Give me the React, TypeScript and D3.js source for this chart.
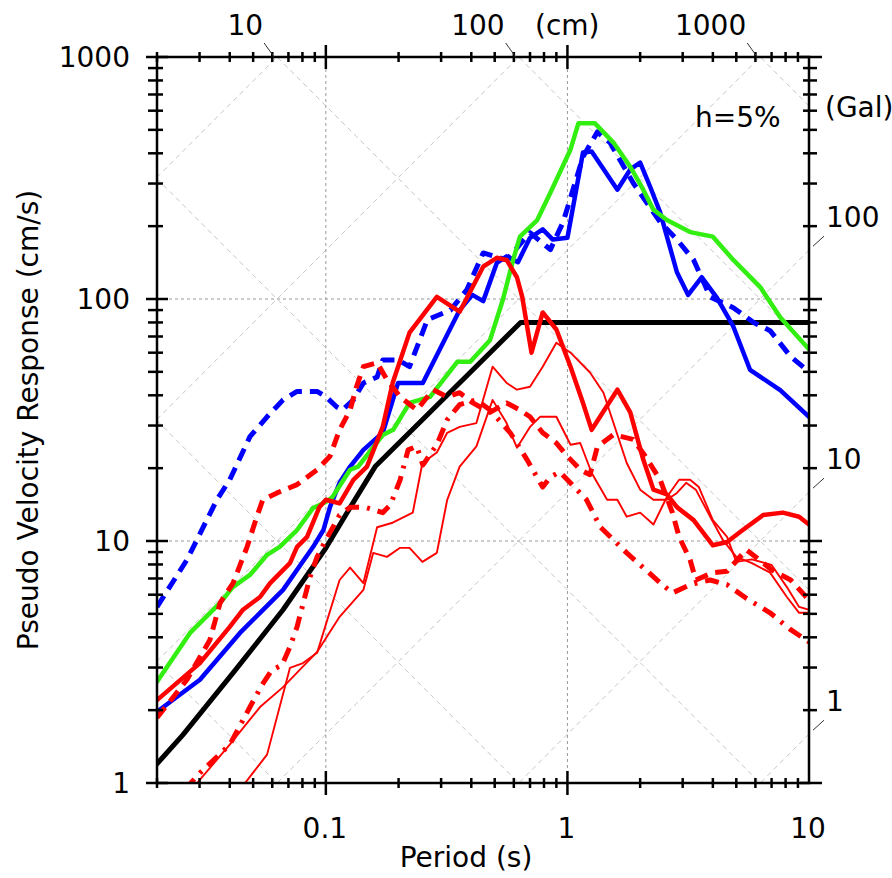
import React from 'react';
import * as d3 from 'd3';

const W = 892;
const H = 878;
const X0 = 157, X1 = 809, Y0 = 57, Y1 = 783;

const periodLabels = [0.1, 1, 10];
const velocityLabels = [1, 10, 100, 1000];
const gridPeriods = [0.1, 1];
const gridVelocities = [10, 100];
const dispLines = [0.01, 0.1, 1, 10, 100, 1000];
const accLines = [1, 10, 100, 1000, 10000, 100000];
const dispLabels = [10, 100, 1000];
const accLabels = [1, 10, 100];

type P = [number, number];

const designSpectrum: P[] = [[0.02,1.2],[0.0256,1.58],[0.0413,2.85],[0.0665,5.2],[0.1,9.35],[0.128,14.1],[0.16,20.3],[0.64,80],[10,80]];

const greenSolid: P[] = [[0.02,2.62],[0.0274,4.17],[0.0365,5.55],[0.0413,6.46],[0.0485,7.24],[0.0571,8.77],[0.0644,9.46],[0.076,11.1],[0.0886,13.7],[0.1,14.5],[0.106,15.1],[0.126,19.7],[0.136,20.3],[0.172,27.4],[0.19,28.8],[0.222,37.2],[0.27,39.4],[0.35,55],[0.396,55],[0.478,67.6],[0.54,99],[0.596,145],[0.636,181],[0.75,212],[0.849,274],[1.03,415],[1.11,532],[1.3,532],[1.55,443],[1.82,352],[2.06,283],[2.27,234],[2.58,212],[3.22,189],[4.0,181],[4.86,145],[6.28,112],[7.6,84],[10,62]];

const blueSolid: P[] = [[0.02,1.97],[0.0301,2.67],[0.0441,4.17],[0.0534,5.05],[0.0665,6.28],[0.0886,9.46],[0.0977,11.1],[0.104,13.8],[0.114,17.4],[0.126,20.3],[0.143,23.8],[0.172,28],[0.199,45],[0.252,45],[0.358,90],[0.404,104],[0.448,98],[0.51,141],[0.56,150],[0.624,142],[0.70,179],[0.79,194],[0.87,176],[1.0,179],[1.16,403],[1.26,407],[1.61,283],[1.82,343],[2.0,366],[2.2,291],[2.42,228],[2.84,129],[3.16,104],[3.6,123],[4.16,101],[4.86,77],[5.7,51],[7.6,42],[10,32.6]];

const blueDashed: P[] = [[0.02,5.34],[0.0266,8.36],[0.0354,14.8],[0.04,17.9],[0.0485,27],[0.0571,32.6],[0.0665,38.3],[0.076,41.5],[0.092,41.5],[0.1,39.5],[0.111,35.8],[0.117,34.8],[0.13,38.3],[0.143,45],[0.163,47.6],[0.172,56],[0.199,56],[0.222,52.5],[0.263,82],[0.328,90],[0.383,109],[0.448,155],[0.56,145],[0.70,188],[0.85,160],[0.96,208],[1.16,387],[1.33,490],[1.5,443],[1.87,302],[2.42,208],[2.84,176],[3.33,145],[3.9,102],[4.86,92],[5.9,80],[6.9,74],[8.4,57.8],[10,50]];

const redSolid: P[] = [[0.02,2.2],[0.0301,3.13],[0.04,4.42],[0.0454,5.2],[0.0534,5.87],[0.0588,6.7],[0.071,8.1],[0.076,9.46],[0.0836,10.4],[0.094,13.8],[0.1,14.8],[0.114,14.3],[0.13,17.9],[0.148,20.3],[0.172,29.6],[0.189,45],[0.222,72.6],[0.288,102],[0.358,88.6],[0.448,136],[0.51,148],[0.56,145],[0.618,123],[0.65,102],[0.71,60],[0.79,88],[0.90,74.8],[1.03,52.5],[1.16,37.2],[1.26,28.8],[1.61,42.2],[1.82,34],[2.06,21.7],[2.27,16.3],[2.58,15.6],[2.84,13.8],[3.33,12.2],[4.0,9.6],[4.58,9.9],[5.32,11.1],[6.46,12.8],[7.8,13.1],[9.1,12.6],[10,11.7]];

const redDashed: P[] = [[0.02,1.86],[0.0266,2.67],[0.0331,3.9],[0.0365,5.55],[0.0413,6.7],[0.0472,9.46],[0.0518,12.6],[0.0548,14.8],[0.0628,15.8],[0.076,17.1],[0.092,19.7],[0.104,22.4],[0.114,28.8],[0.126,34.8],[0.134,43.4],[0.143,52.5],[0.163,54.6],[0.179,46.4],[0.203,39.4],[0.238,34.8],[0.278,42.2],[0.318,39.4],[0.358,41],[0.406,37.2],[0.478,34],[0.56,37.2],[0.636,34.8],[0.70,32.6],[0.79,28],[0.90,25.4],[1.0,22.4],[1.13,19.7],[1.24,18.8],[1.33,24.5],[1.55,27.5],[1.87,26.3],[2.12,22.1],[2.42,17.9],[2.72,13.1],[2.9,10.4],[3.22,8.36],[3.4,6.9],[4.0,7.4],[4.58,7.5],[5.5,9.2],[6.2,8.4],[7.0,7.6],[8.4,6.9],[10,5.7]];

const redDashDot: P[] = [[0.0261,0.94],[0.0301,1.1],[0.04,1.44],[0.0485,2.06],[0.0544,2.54],[0.0598,2.93],[0.0658,3.07],[0.071,3.65],[0.076,4.42],[0.086,7.1],[0.092,8.6],[0.1,10.1],[0.114,12.8],[0.126,13.8],[0.145,13.8],[0.172,13.1],[0.185,14.1],[0.203,17.9],[0.219,23.8],[0.238,24.6],[0.252,20.6],[0.288,25],[0.318,31.7],[0.358,36.6],[0.42,38.3],[0.478,34.8],[0.58,28],[0.68,21.7],[0.79,16.7],[0.85,18.4],[0.93,19.3],[1.2,14.8],[1.37,11.4],[1.76,8.93],[2.42,6.72],[2.72,6.1],[3.22,6.6],[3.9,6.9],[4.58,6.6],[5.5,5.8],[6.9,5.05],[8.4,4.3],[10,3.83]];

const redThinA: P[] = [[0.0463,1.0],[0.0571,1.31],[0.071,2.99],[0.0804,3.13],[0.092,3.45],[0.114,6.9],[0.126,7.77],[0.143,6.7],[0.163,11.4],[0.189,11.9],[0.229,13.1],[0.251,21],[0.288,23.2],[0.318,28],[0.358,29.6],[0.42,30.7],[0.49,52.5],[0.56,45],[0.618,42.2],[0.70,43.4],[0.79,52.5],[0.90,66],[1.03,60],[1.24,49.7],[1.41,41],[1.76,21],[2.0,16.3],[2.27,14.8],[2.58,14.8],[2.84,15.8],[3.1,17.4],[3.4,16.3],[3.9,12.6],[4.4,10.1],[5.0,8.6],[5.8,8.1],[6.9,7.4],[8.1,5.87],[9.1,5.05],[10,5.05]];

const redThinB: P[] = [[0.0293,1.0],[0.04,1.44],[0.0534,2.06],[0.0665,2.49],[0.092,3.48],[0.114,4.86],[0.143,6.28],[0.157,8.93],[0.179,8.6],[0.203,9.37],[0.222,9.37],[0.251,8.2],[0.288,8.93],[0.318,14.8],[0.358,20.3],[0.42,24.6],[0.49,38.3],[0.56,30.7],[0.618,24.3],[0.70,29.6],[0.77,32.6],[0.90,32.6],[1.03,25],[1.13,25.4],[1.26,19.1],[1.46,14.8],[1.61,14.8],[1.76,12.6],[2.0,13.1],[2.27,11.7],[2.58,15.2],[2.9,17.9],[3.22,17.9],[3.5,16.7],[4.0,12.2],[4.58,10.4],[5.0,8.2],[5.8,8.4],[7.0,7.96],[8.1,6.45],[9.1,5.34],[10,5.2]];

const FONT = '"DejaVu Sans", sans-serif';

export default function App() {
  const x = d3.scaleLog().domain([0.02, 10]).range([X0, X1]);
  const y = d3.scaleLog().domain([1, 1000]).range([Y1, Y0]);
  const line = d3.line<P>().x(d => x(d[0])).y(d => y(d[1]));

  const minorX: number[] = [];
  [0.01, 0.1, 1].forEach(d => { for (let k = 1; k <= 9; k++) { const v = d * k; if (v >= 0.0199 && v <= 10.01) minorX.push(v); } });
  const minorY: number[] = [];
  [1, 10, 100].forEach(d => { for (let k = 1; k <= 9; k++) minorY.push(d * k); });
  const isMajor = (v: number) => Math.abs(Math.log10(v) - Math.round(Math.log10(v))) < 1e-6;

  const Tmin = 0.02, Tmax = 10;
  const diag = (f: (t: number) => number) => line([[Tmin, f(Tmin)], [Tmax, f(Tmax)]]) || '';

  const series: { d: P[]; color: string; w: number; dash?: string }[] = [
    { d: designSpectrum, color: '#000', w: 5 },
    { d: blueDashed, color: '#0000ff', w: 5, dash: '13,8' },
    { d: blueSolid, color: '#0000ff', w: 4.5 },
    { d: greenSolid, color: '#33ee11', w: 4.5 },
    { d: redThinA, color: '#ff0000', w: 1.9 },
    { d: redThinB, color: '#ff0000', w: 1.9 },
    { d: redDashDot, color: '#ff0000', w: 5, dash: '14,8,3,8' },
    { d: redDashed, color: '#ff0000', w: 5, dash: '13,8' },
    { d: redSolid, color: '#ff0000', w: 4.5 },
  ];

  return (
    <svg width={W} height={H} style={{ position: 'absolute', left: 0, top: 0, background: '#fff' }} fontFamily={FONT}>
      <defs>
        <clipPath id="plot"><rect x={X0} y={Y0} width={X1 - X0} height={Y1 - Y0} /></clipPath>
      </defs>
      <g clipPath="url(#plot)">
        {dispLines.map(sd => (
          <path key={'d' + sd} d={diag(t => 2 * Math.PI * sd / t)} stroke="#c6c6c6" strokeWidth={1} strokeDasharray="5,4" fill="none" />
        ))}
        {accLines.map(sa => (
          <path key={'a' + sa} d={diag(t => sa * t / (2 * Math.PI))} stroke="#c6c6c6" strokeWidth={1} strokeDasharray="5,4" fill="none" />
        ))}
        {gridVelocities.map(v => (
          <line key={'gy' + v} x1={X0} x2={X1} y1={y(v)} y2={y(v)} stroke="#999" strokeWidth={1} strokeDasharray="3,3" />
        ))}
        {gridPeriods.map(v => (
          <line key={'gx' + v} x1={x(v)} x2={x(v)} y1={Y0} y2={Y1} stroke="#999" strokeWidth={1} strokeDasharray="3,3" />
        ))}
        {series.map((s, i) => (
          <path key={i} d={line(s.d) || ''} fill="none" stroke={s.color} strokeWidth={s.w} strokeDasharray={s.dash} strokeLinejoin="round" strokeLinecap={s.dash ? 'butt' : 'round'} />
        ))}
      </g>
      <rect x={X0} y={Y0} width={X1 - X0} height={Y1 - Y0} fill="none" stroke="#000" strokeWidth={2.5} />
      {minorX.map(v => {
        const m = isMajor(v); const px = x(v); const a = m ? 12 : 5;
        return (
          <g key={'tx' + v}>
            <line x1={px} x2={px} y1={Y1 - a} y2={Y1 + a} stroke="#000" strokeWidth={2.5} />
            <line x1={px} x2={px} y1={Y0 - a} y2={Y0 + a} stroke="#000" strokeWidth={2.5} />
          </g>
        );
      })}
      {minorY.concat([1000]).map(v => {
        const m = isMajor(v); const py = y(v);
        return (
          <g key={'ty' + v}>
            <line x1={X0 - (m ? 11 : 9)} x2={X0 + (m ? 11 : 6)} y1={py} y2={py} stroke="#000" strokeWidth={2.5} />
            <line x1={X1 - (m ? 9 : 6)} x2={X1 + (m ? 13 : 8)} y1={py} y2={py} stroke="#000" strokeWidth={2.5} />
          </g>
        );
      })}
      {velocityLabels.map(v => (
        <text key={'ly' + v} x={130} y={y(v) + 10} textAnchor="end" fontSize={28}>{v}</text>
      ))}
      {periodLabels.map(v => (
        <text key={'lx' + v} x={x(v) - 1} y={838} textAnchor="middle" fontSize={28}>{v}</text>
      ))}
      {dispLabels.map(sd => {
        const ix = x(2 * Math.PI * sd / 1000);
        return (
          <g key={'dl' + sd}>
            <line x1={ix - 3} y1={Y0} x2={ix - 13} y2={Y0 - 14} stroke="#333" strokeWidth={1} />
            <text x={ix - 14} y={35} textAnchor="end" fontSize={28}>{sd}</text>
          </g>
        );
      })}
      <text x={535} y={35} fontSize={28}>(cm)</text>
      {accLabels.map(sa => {
        const iy = y(sa * 10 / (2 * Math.PI));
        return (
          <g key={'al' + sa}>
            <line x1={X1 + 4} y1={iy - 4} x2={X1 + 15} y2={iy - 14} stroke="#333" strokeWidth={1} />
            <text x={826} y={iy - 23} fontSize={28}>{sa}</text>
          </g>
        );
      })}
      <text x={825} y={117} fontSize={28}>(Gal)</text>
      <text x={695} y={127} fontSize={28}>h=5%</text>
      <text x={466} y={867} textAnchor="middle" fontSize={28}>Period (s)</text>
      <text transform="translate(38,420) rotate(-90)" textAnchor="middle" fontSize={28}>Pseudo Velocity Response (cm/s)</text>
    </svg>
  );
}
